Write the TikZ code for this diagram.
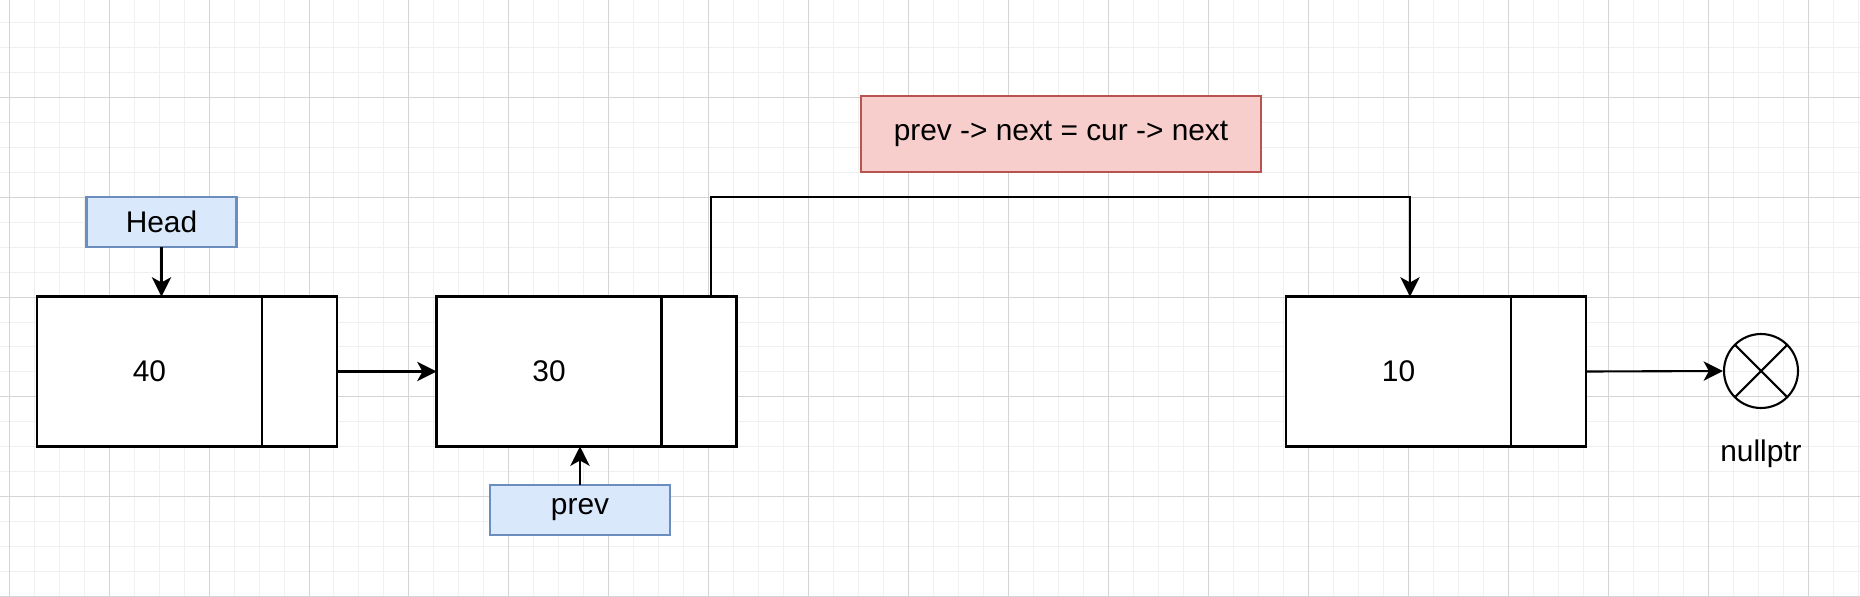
\documentclass[tikz,border=0pt]{standalone}
\usepackage{fontspec}
\setmainfont{Liberation Sans}
\usepackage{xcolor}
\usepackage{tikz}
\usetikzlibrary{arrows.meta, positioning}
\definecolor{gridmajor}{RGB}{212, 212, 212}
\definecolor{gridminor}{RGB}{240, 240, 240}
\definecolor{tagfill}{HTML}{DAE8FC}
\definecolor{tagdraw}{HTML}{6C8EBF}
\definecolor{notefill}{HTML}{F8CECC}
\definecolor{notedraw}{HTML}{B85450}
\tikzstyle{datacell} = [
    rectangle,
    draw=black,
    fill=white,
    line width=1.2pt,
    outer sep=0pt,
    minimum width=4.5cm,
    minimum height=3cm,
    font=\fontsize{17}{20}\selectfont
]
\tikzstyle{nextcell} = [
    rectangle,
    draw=black,
    fill=white,
    line width=1.2pt,
    outer sep=0pt,
    minimum width=1.5cm,
    minimum height=3cm
]
\tikzstyle{ptrtag} = [
    rectangle,
    draw=tagdraw,
    fill=tagfill,
    line width=1.2pt,
    outer sep=0pt,
    minimum height=1cm,
    font=\fontsize{17}{20}\selectfont
]
\tikzstyle{arrow} = [
    line width=1.2pt,
    -{Stealth[length=11pt, width=11pt, inset=3pt]},
    color=black
]

\begin{document}
\begin{tikzpicture}[x=0.02cm, y=-0.02cm]
        \useasboundingbox (0, 0) rectangle (1860, 596);
        % Grid
        \begin{scope}[shift={(9, -3)}]
            \draw[gridminor, line width=0.5pt, step=0.5cm] (-25, -25) grid (1875, 625);
            \draw[gridmajor, line width=0.5pt, step=2cm] (-25, -25) grid (1875, 625);
        \end{scope}

        % List nodes
        \node[datacell] (d40) at (149.5, 371.5) {40};
        \node[nextcell, right=0pt of d40] (p40) {};
        \node[datacell] (d30) at (549, 371.5) {30};
        \node[nextcell, right=0pt of d30] (p30) {};
        \node[datacell] (d10) at (1398.5, 371.5) {10};
        \node[nextcell, right=0pt of d10] (p10) {};

        % Pointers
        \node[ptrtag, minimum width=3cm] (head) at (161.5, 222) {Head};
        \node[ptrtag, minimum width=3.6cm] (prev) at (580, 510) {prev};
        \node[rectangle, draw=notedraw, fill=notefill, line width=1.2pt, minimum width=8cm, minimum height=1.52cm,
              font=\fontsize{17}{20}\selectfont] (note) at (1061, 134) {prev -> next = cur -> next};

        % nullptr
        \node[circle, draw, line width=1.2pt, minimum size=1.48cm, inner sep=0pt,
              path picture={\draw[line width=1.2pt]
                (path picture bounding box.north west) -- (path picture bounding box.south east)
                (path picture bounding box.north east) -- (path picture bounding box.south west);}]
              (null) at (1761, 371) {};
        \node[font=\fontsize{17}{20}\selectfont, below=0.5cm of null] (nulltxt) {nullptr};

        % Arrows
        \draw[arrow] (head.south) -- (head.south |- d40.north);
        \draw[arrow] (p40.east) -- (d30.west);
        \draw[arrow] (prev.north) -- (prev.north |- d30.south);
        \draw[arrow] ([xshift=0.24cm]p30.north) -- ++(0, -99.5) -| ([xshift=0.23cm]d10.north);
        \draw[arrow] (p10.east) -- (null.west);
    \end{tikzpicture}
\end{document}
